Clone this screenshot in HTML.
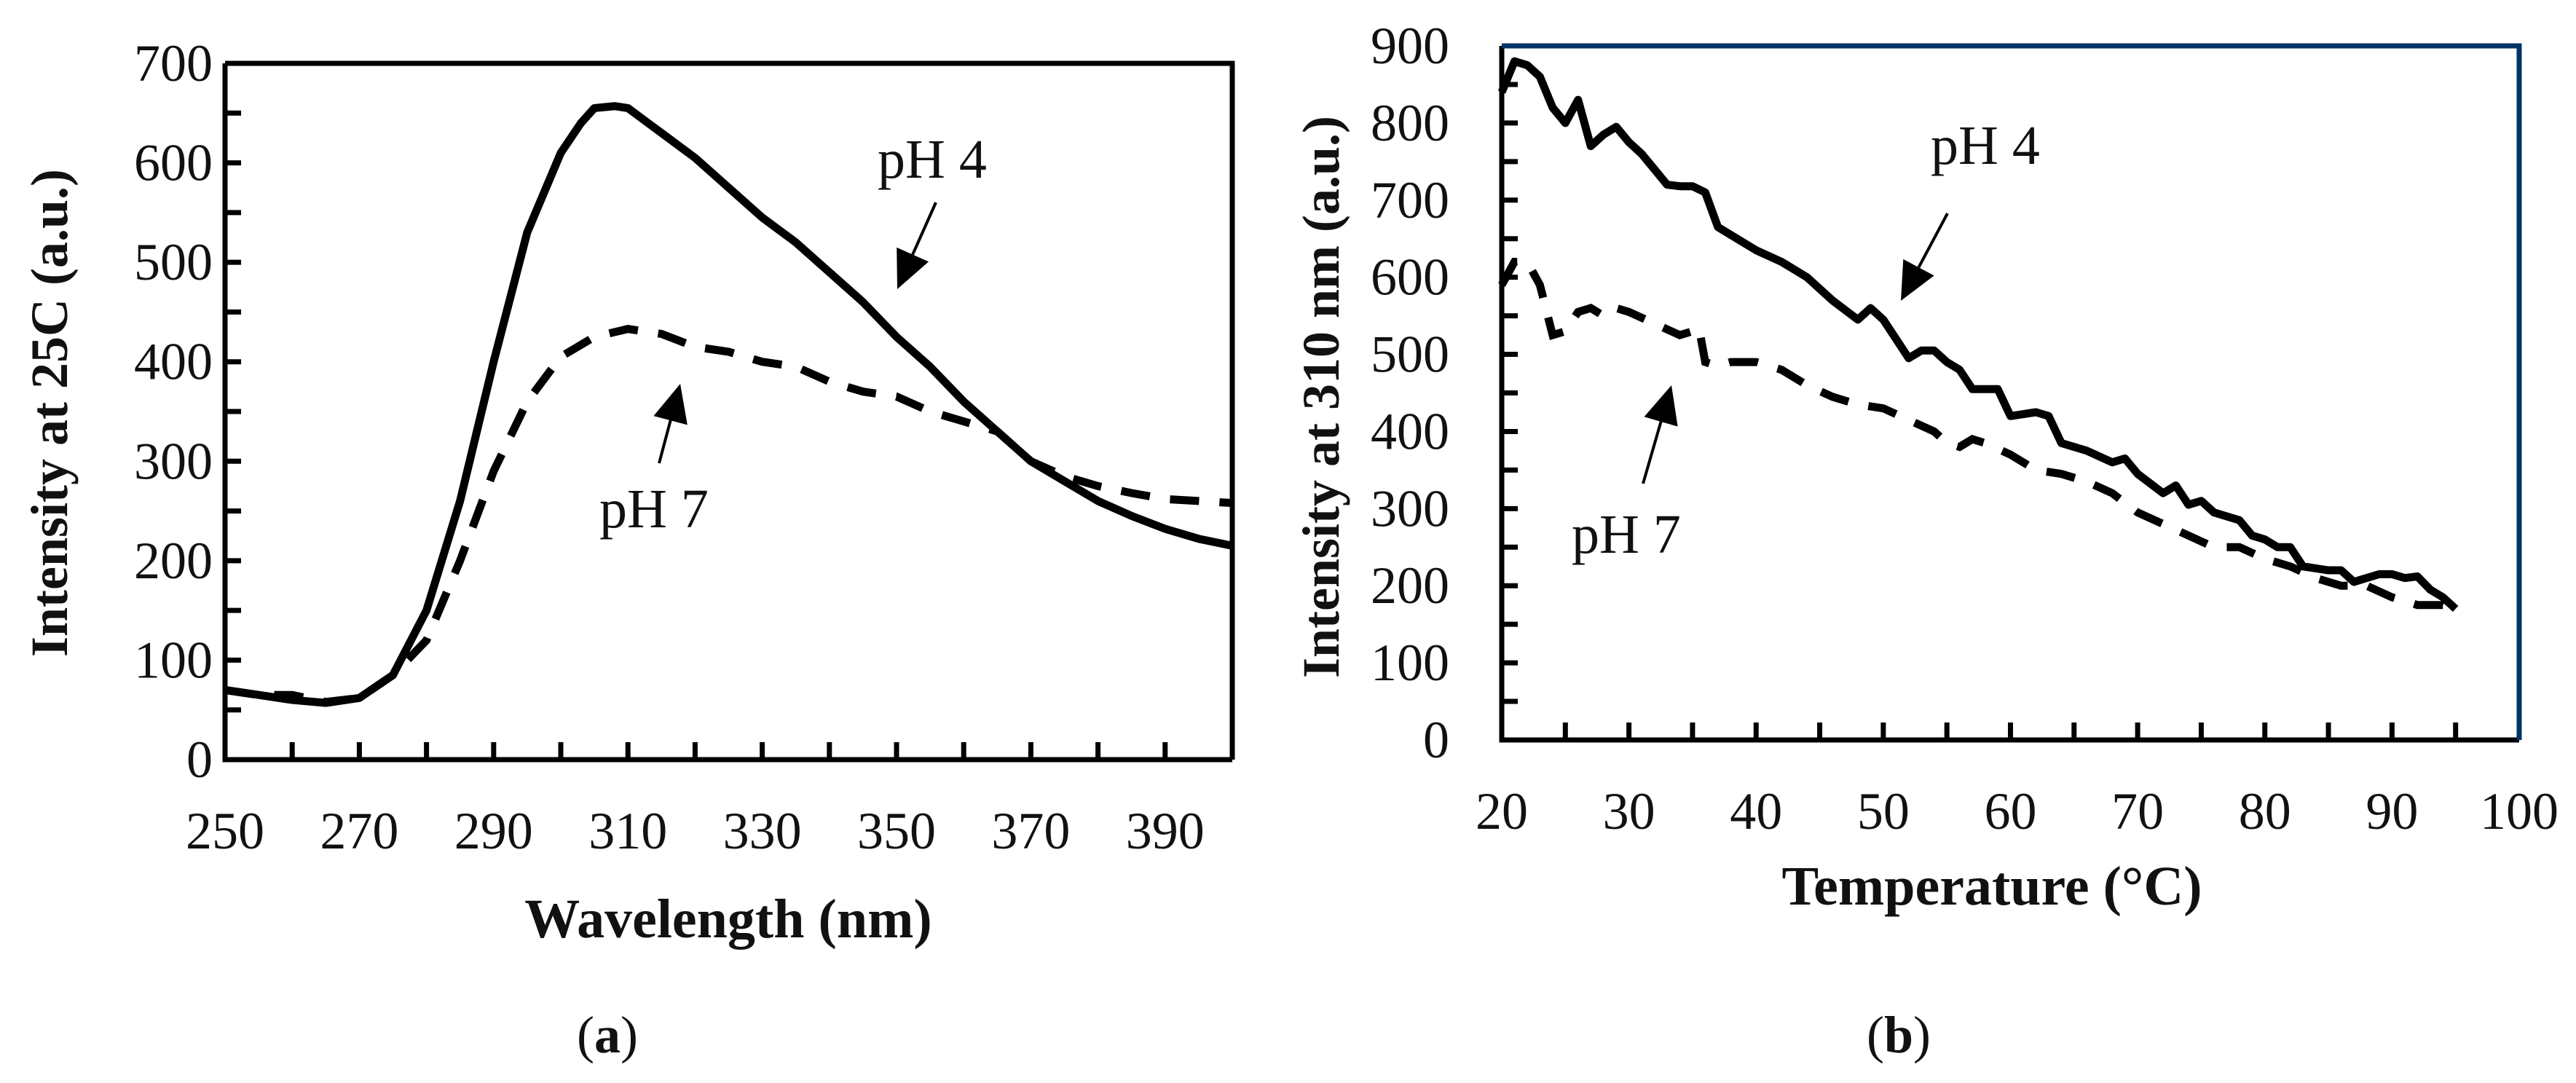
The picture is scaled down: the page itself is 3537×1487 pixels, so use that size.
<!DOCTYPE html>
<html><head><meta charset="utf-8"><style>
html,body{margin:0;padding:0;background:#fff;}
svg{display:block;}
text{font-family:"Liberation Serif",serif;fill:#111;}
</style></head><body>
<svg id="fig" width="3537" height="1487" viewBox="0 0 3537 1487" xmlns="http://www.w3.org/2000/svg"></svg>
<script>
// ---- Chart (a) data ----
const aX = [250,255,260,265,270,275,280,285,290,295,300,303,305,308,310,315,320,325,330,335,340,345,350,355,360,365,370,375,380,385,390,395,400];
const aPH4 = [70,65,60,57,62,85,150,260,400,530,610,640,655,657,655,630,605,575,545,520,490,460,425,395,360,330,300,280,260,245,232,222,215];
const aX7 = [250,255,260,265,270,275,280,285,290,295,300,305,310,315,320,325,330,335,340,345,350,355,360,365,370,375,380,385,390,395,400];
const aPH7 = [70,65,65,58,62,85,120,200,290,360,405,425,433,428,415,410,400,395,380,370,365,350,340,330,300,285,275,268,262,260,258];
const aXTicks = [250,270,290,310,330,350,370,390];
const aYTicks = [0,100,200,300,400,500,600,700];
// ---- Chart (b) data ----
const bX4 = [20,21,22,23,24,25,26,27,28,29,30,31,32,33,34,35,36,37,38,40,42,44,46,48,49,50,52,53,54,55,56,57,58,59,60,62,63,64,66,68,69,70,72,73,74,75,76,78,79,80,81,82,83,85,86,87,88,89,90,91,92,93,94,95];
const bPH4 = [840,880,875,860,820,800,830,770,785,795,775,760,740,720,718,718,710,665,655,635,620,600,570,545,560,545,495,505,505,490,480,455,455,455,420,425,420,385,375,360,365,345,320,330,305,310,295,285,265,260,250,250,225,220,220,205,210,215,215,210,212,195,185,170];
const bX7 = [20,21,22,23,24,25,26,27,28,29,30,32,34,35,35.5,36,37,38,40,42,44,46,48,50,52,54,55,56,57,58,60,62,64,66,68,70,72,74,76,78,80,82,84,86,88,90,92,94,95];
const bPH7 = [590,620,620,590,525,530,555,560,550,560,555,540,525,530,535,490,485,490,490,480,460,445,435,430,415,400,385,380,390,385,370,350,345,335,320,295,280,265,250,250,235,225,210,200,200,185,175,175,165];
const bXTicks = [20,30,40,50,60,70,80,90,100];
const bYTicks = [0,100,200,300,400,500,600,700,800,900];

const NS="http://www.w3.org/2000/svg";
const svg=document.getElementById('fig');
function mk(tag,attrs,parent){const e=document.createElementNS(NS,tag);for(const k in attrs)e.setAttribute(k,attrs[k]);(parent||svg).appendChild(e);return e;}
function txt(s,attrs,parent){const e=mk('text',attrs,parent);e.textContent=s;return e;}

function chart(cfg){
  const g=mk('g',{});
  
  
  const sx=v=>cfg.x0+(v-cfg.xmin)/(cfg.xmax-cfg.xmin)*(cfg.x1-cfg.x0);
  const sy=v=>cfg.y0-(v-cfg.ymin)/(cfg.ymax-cfg.ymin)*(cfg.y0-cfg.y1);
  for(let v=cfg.ymin;v<=cfg.ymax;v+=cfg.yminor){
    const t=mk('line',{x1:cfg.x0,x2:cfg.x0+22,y1:sy(v),y2:sy(v),stroke:'#000','stroke-width':7},g);
    
    
  }
  for(let v=cfg.xmin;v<=cfg.xmax;v+=cfg.xminor){
    const t=mk('line',{x1:sx(v),x2:sx(v),y1:cfg.y0,y2:cfg.y0-24,stroke:'#000','stroke-width':7},g);
    
    
  }
  const fl=mk('path',{d:`M${cfg.x0},${cfg.y1} L${cfg.x0},${cfg.y0} L${cfg.x1},${cfg.y0}`,fill:'none',stroke:'#000','stroke-width':7},g);
  
  
  const fr=mk('path',{d:`M${cfg.x0},${cfg.y1} L${cfg.x1},${cfg.y1} L${cfg.x1},${cfg.y0}`,fill:'none',stroke:cfg.frameColor,'stroke-width':7},g);
  
  
  cfg.yt.forEach(v=>{const t=txt(String(v),{x:cfg.ylabX,y:sy(v)+24,'text-anchor':'end','font-size':72},g);
    
    });
  cfg.xt.forEach(v=>{const t=txt(String(v),{x:sx(v),y:cfg.xlabY,'text-anchor':'middle','font-size':72},g);
    
    });
  const p4=mk('polyline',{points:cfg.x4.map((x,i)=>sx(x)+','+sy(cfg.v4[i])).join(' '),fill:'none',stroke:'#000','stroke-width':11,'stroke-linejoin':'round'},g);
  
  
  const p7=mk('polyline',{points:cfg.x7.map((x,i)=>sx(x)+','+sy(cfg.v7[i])).join(' '),fill:'none',stroke:'#000','stroke-width':11,'stroke-dasharray':'40 28'},g);
  
  
  const xt=txt(cfg.xtitle,{x:cfg.xtX,y:cfg.xtY,'text-anchor':'middle','font-size':76,'font-weight':'bold'},g);
  
  
  const yt=txt(cfg.ytitle,{x:0,y:0,'text-anchor':'middle','font-size':72,'font-weight':'bold',transform:`translate(${cfg.ytX},${cfg.ytY}) rotate(-90)`},g);
  
  
  cfg.ann.forEach(a=>{
    const l=txt(a.t,{x:a.lx,y:a.ly,'text-anchor':'middle','font-size':76},g);
    
    
    const dx=a.x2-a.x1,dy=a.y2-a.y1,L=Math.hypot(dx,dy),ux=dx/L,uy=dy/L;
    const bx=a.x2-ux*52,by=a.y2-uy*52;
    const ar=mk('line',{x1:a.x1,y1:a.y1,x2:bx,y2:by,stroke:'#000','stroke-width':4},g);
    
    
    const hd=mk('polygon',{points:`${a.x2},${a.y2} ${bx-uy*24},${by+ux*24} ${bx+uy*24},${by-ux*24}`,fill:'#000'},g);
    
    
  });
  const c=mk('text',{x:cfg.capX,y:1445,'text-anchor':'middle','font-size':72},g);
  const t1=mk('tspan',{},c);t1.textContent='(';
  const t2=mk('tspan',{'font-weight':'bold'},c);t2.textContent=cfg.cap;
  const t3=mk('tspan',{},c);t3.textContent=')';
  
  
}

chart({name:'chart-a',x0:309,x1:1692,y0:1043,y1:87,xmin:250,xmax:400,ymin:0,ymax:700,xminor:10,yminor:50,
  xt:aXTicks,yt:aYTicks,ylabX:292,xlabY:1165,frameColor:'#000',x4:aX,v4:aPH4,x7:aX7,v7:aPH7,
  xtitle:'Wavelength (nm)',xtX:1000,xtY:1287,ytitle:'Intensity at 25C (a.u.)',ytX:92,ytY:567,
  ann:[{t:'pH 4',lx:1280,ly:244,x1:1285,y1:278,x2:1232,y2:397},{t:'pH 7',lx:898,ly:724,x1:905,y1:636,x2:934,y2:527}],
  capX:834,cap:'a'});
chart({name:'chart-b',x0:2062,x1:3459,y0:1016,y1:63,xmin:20,xmax:100,ymin:0,ymax:900,xminor:5,yminor:50,
  xt:bXTicks,yt:bYTicks,ylabX:1990,xlabY:1138,frameColor:'#003366',x4:bX4,v4:bPH4,x7:bX7,v7:bPH7,
  xtitle:'Temperature (°C)',xtX:2735,xtY:1242,ytitle:'Intensity at 310 nm (a.u.)',ytX:1838,ytY:545,
  ann:[{t:'pH 4',lx:2726,ly:225,x1:2674,y1:293,x2:2610,y2:413},{t:'pH 7',lx:2233,ly:759,x1:2256,y1:664,x2:2295,y2:529}],
  capX:2607,cap:'b'});
</script>
</body></html>
